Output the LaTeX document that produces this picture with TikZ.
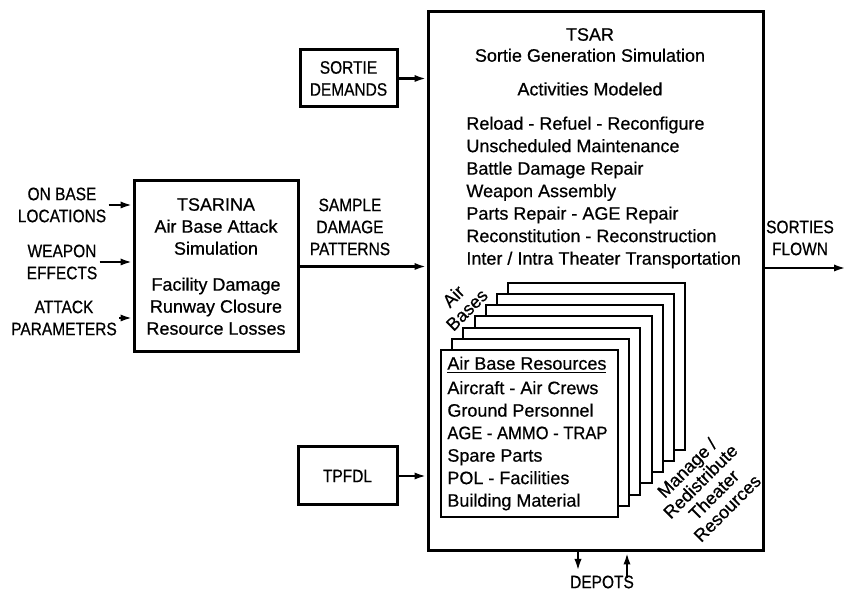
\documentclass[tikz,border=0pt]{standalone}
\usepackage{fontspec}
\setmainfont{Liberation Sans}[FakeBold=0.6]
\newfontfamily\capsfont{Liberation Sans}[FakeStretch=0.86, FakeBold=0.6]
\newfontfamily\midfont{Liberation Sans}[FakeStretch=0.92, FakeBold=0.6]
\usepackage{tikz}
\usetikzlibrary{arrows.meta, positioning, calc}
\tikzset{
  frame/.style={rectangle, draw=black, fill=white, line width=1.5pt, inner sep=0pt},
  sheetbox/.style={rectangle, draw=black, fill=white, line width=1pt, inner sep=0pt,
    minimum width=88.5pt, minimum height=83.5pt},
  txt/.style={align=center, font=\fontsize{9}{11}\selectfont, inner sep=1pt},
  slanted/.style={align=center, font=\fontsize{9}{9.5}\selectfont, inner sep=0pt, rotate=45},
  listtxt/.style={align=left, font=\fontsize{9}{11.25}\selectfont, inner sep=0pt},
  caps/.style={align=center, font=\capsfont\fontsize{9}{11}\selectfont, inner sep=1pt},
  arrow/.style={-{Latex[length=6pt,width=3.6pt]}, line width=1.3pt}
}

\begin{document}
\begin{tikzpicture}[x=0.5pt, y=-0.5pt]
  \fill[white] (0,0) rectangle (848,592);
  \useasboundingbox (0,0) rectangle (848,592);

  % main blocks
  \node[frame, minimum width=167.5pt, minimum height=269.5pt] (tsar) at (595.5,281.5) {};
  \node[frame, txt, minimum width=82pt, minimum height=85.5pt] (tsarina) at (216,266.5)
    {TSARINA\\Air Base Attack\\Simulation\\[7pt]Facility Damage\\Runway Closure\\Resource Losses};
  \node[frame, caps, minimum width=48.5pt, minimum height=28.5pt] (demands) at (348.5,78.5) {SORTIE\\DEMANDS};
  \node[frame, caps, minimum width=49.5pt, minimum height=29pt] (tpfdl) at (347.5,476) {TPFDL};

  % inputs
  \node[caps] (onbase) at (62,205) {ON BASE\\LOCATIONS};
  \node[caps] (weapon) at (62,262) {WEAPON\\EFFECTS};
  \node[caps] (attack) at (64,318) {ATTACK\\PARAMETERS};
  \draw[arrow] (onbase.east) -- (onbase.east -| tsarina.west);
  \draw[arrow] (weapon.east) -- (weapon.east -| tsarina.west);
  \draw[arrow] (attack.east) -- (attack.east -| tsarina.west);

  \draw[arrow] (tsarina.east) -- (tsarina.east -| tsar.west);
  \node[caps] (sample) at (350,227) {SAMPLE\\DAMAGE\\PATTERNS};
  \draw[arrow] (demands.east) -- (demands.east -| tsar.west);
  \draw[arrow] (tpfdl.east) -- (tpfdl.east -| tsar.west);

  % TSAR contents
  \node[txt, font=\fontsize{9}{10.5}\selectfont] (tsartitle) at (590,45) {TSAR\\Sortie Generation Simulation};
  \node[txt] (modeled) at (590,89) {Activities Modeled};
  \node[listtxt, anchor=west] (activities) at (466,192.5)
    {Reload - Refuel - Reconfigure\\Unscheduled Maintenance\\Battle Damage Repair\\Weapon Assembly\\
     Parts Repair - AGE Repair\\Reconstitution - Reconstruction\\Inter / Intra Theater Transportation};

  % stacked air bases
  \coordinate (rescenter) at (529.5,433.5);
  \foreach \k in {6,5,...,1}
    \node[sheetbox] (sheet\k) at ($(rescenter)+(11.2*\k,-11.2*\k)$) {};
  \node[sheetbox] (res) at (rescenter) {};
  \node[listtxt, anchor=west] (reslist) at (447,433.5)
    {\underline{Air Base Resources}\\[1pt]Aircraft - Air Crews\\Ground Personnel\\{\midfont AGE - AMMO - TRAP}\\
     Spare Parts\\POL - Facilities\\Building Material};
  \node[slanted] (airbases) at (460,303) {Air\\Bases};
  \node[slanted] (manage) at (707,488) {Manage /\\Redistribute\\Theater\\Resources};

  % outputs
  \coordinate (flown) at (846,268);
  \draw[arrow] (tsar.east |- flown) -- (flown);
  \node[caps] (sorties) at (800,238) {SORTIES\\FLOWN};
  \coordinate (depout) at (578,571);
  \coordinate (depin) at (627,578);
  \draw[arrow] (tsar.south -| depout) -- (depout);
  \draw[arrow] (depin) -- (depin |- tsar.south);
  \node[caps] (depots) at (602,582) {DEPOTS};
\end{tikzpicture}
\end{document}
